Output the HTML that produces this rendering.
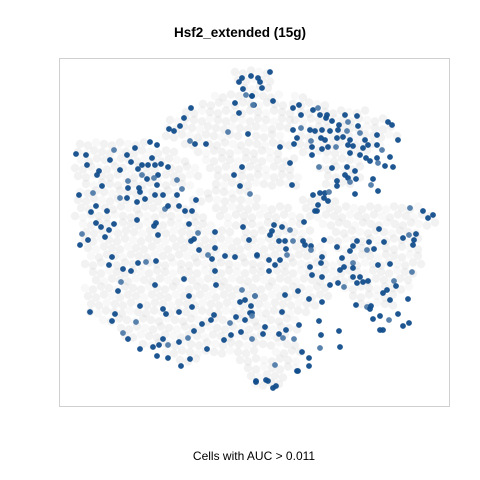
<!DOCTYPE html>
<html><head><meta charset="utf-8"><style>
body{margin:0;background:#fff;}
svg{display:block;font-family:"Liberation Sans",Arial,sans-serif;}
</style></head><body>
<svg id="chart" width="480" height="480">
<rect x="0" y="0" width="480" height="480" fill="#fff"/>
<text x="240" y="37" text-anchor="middle" font-size="13.5" font-weight="bold" fill="#000">Hsf2_extended (15g)</text>
<g id="gray"></g>
<g id="blue"></g>
<rect x="59.5" y="58.5" width="390" height="348" fill="none" stroke="#d0d0d0" stroke-width="1"/>
<text x="254" y="460" text-anchor="middle" font-size="12" fill="#000">Cells with AUC &gt; 0.011</text>
</svg>
<script>
// background cell density: per row, coordinate and x-span pairs
const grayRows = [72,80,88,96,104,112,120,128,136,144,152,160,168,176,184,192,200,208,216,224,232,240,248,256,264,272,280,288,296,304,312,320,328,336,344,352,360,368,376,384];
const graySpans = [
 [[235,270]],[[235,275]],[[238,275]],[[215,280],[295,310]],[[200,285],[290,330]],
 [[180,290],[295,370]],[[170,290],[295,390]],[[165,290],[300,395]],[[160,240],[250,285],[295,400]],
 [[80,150],[185,290],[300,380]],[[75,180],[195,285],[300,370]],[[75,190],[200,300],[320,360]],
 [[75,195],[210,290],[320,365]],[[75,200],[215,300],[325,360]],[[80,195],[210,300],[320,355]],
 [[80,180],[200,250]],[[75,175],[190,260],[300,340]],[[75,200],[210,290],[300,420]],
 [[75,210],[220,300],[310,430]],[[80,215],[225,305],[320,440]],[[80,230],[240,310],[330,420]],
 [[85,315],[330,420]],[[85,320],[335,420]],[[85,330],[340,425]],[[85,425]],[[90,420]],[[90,410]],
 [[85,330],[345,410]],[[85,330],[350,400]],[[85,320],[355,400]],[[90,310]],[[100,300]],
 [[115,300]],[[125,290]],[[140,295]],[[160,260],[270,300]],[[180,200],[240,300]],[[245,300]],[[245,290]],[[255,285]]
];
// cells above AUC threshold (tSNE coordinates)
const tsne1 = [76,86,87,114,110,99,97,102,79,93,96,91,107,101,96,82,80,88,105,109,114,120,120,127,131,135,138,128,127,128,137,139,142,142,147,148,152,155,158,154,157,150,157,161,168,177,177,163,155,145,140,165,168,179,185,192,196,182,137,156,154,158,189,198,194,191,199,215,215,208,212,225,235,249,243,257,112,109,123,131,138,146,156,184,215,216,155,121,118,90,112,115,140,136,163,166,179,192,189,123,128,140,153,159,163,168,179,157,168,181,190,188,194,202,207,211,214,230,236,231,224,241,245,242,245,240,251,252,255,252,256,242,239,251,252,246,243,235,239,254,248,228,191,184,180,174,169,190,195,206,242,234,240,250,
270,258,260,262,252,253,273,293,299,301,313,318,320,326,327,345,357,348,339,332,388,392,293,301,310,315,322,330,338,347,358,365,377,398,297,311,321,325,337,343,350,360,280,294,312,322,328,336,348,353,363,368,377,382,350,360,366,370,377,378,385,390,393,312,290,319,332,347,355,345,348,350,356,337,337,355,373,371,378,292,313,320,325,329,324,328,318,317,315,410,423,433,428,274,282,290,304,272,270,285,279,293,303,286,257,305,311,311,324,337,350,357,353,367,369,374,384,379,403,409,416,414,413,269,280,287,275,269,322,321,342,353,340,344,353,378,390,412,310,312,322,330,338,344,353,360,357,363,368,394,396,387,383,390,408,255,285,298,309,322,356,367,370,380,373,380,383,389,398,403,409,371,250,252,282,286,263,265,279,294,299,321,319,339,340,320,309,309,298,297,302,275,268,256,266,273,276,283,252];
const tsne2 = [154,155,165,150,160,171,175,186,195,193,206,212,211,227,223,234,245,240,237,230,224,198,170,155,162,148,169,181,198,188,202,188,165,175,179,165,158,165,175,178,185,142,145,164,167,180,195,195,195,199,192,209,206,206,211,211,200,189,220,223,226,235,224,233,239,241,250,248,232,255,259,256,257,240,227,256,257,265,269,271,263,262,261,279,271,285,285,282,291,312,321,314,306,322,309,314,312,307,296,333,339,349,347,345,339,345,342,356,358,366,359,338,331,324,349,320,315,323,317,335,340,332,320,290,300,302,306,313,296,339,381,78,82,76,96,95,89,103,113,105,134,132,108,118,126,131,129,141,144,144,167,175,186,194,
72,78,82,88,96,105,101,108,105,115,110,108,115,118,115,115,116,122,125,121,122,125,130,128,130,131,130,131,130,131,126,140,135,140,138,141,138,140,138,137,140,133,147,144,147,149,147,147,145,146,148,145,145,150,153,155,158,161,158,163,166,157,167,155,163,167,168,167,171,175,178,182,179,181,186,194,179,185,191,185,195,193,193,192,198,201,205,211,211,208,211,215,218,225,227,230,222,231,235,241,241,241,241,249,255,245,246,250,240,247,251,241,246,250,242,249,242,229,238,235,234,240,245,260,260,255,265,271,257,263,258,263,270,267,268,265,264,272,267,275,277,285,283,287,277,277,283,282,281,281,286,290,293,300,299,296,295,291,299,302,305,307,309,316,319,330,330,320,314,326,323,306,313,316,312,330,334,327,334,339,325,335,321,331,347,348,358,366,371,371,352,365,381,382,380,388,386,338];
const XDOM=[59,449], YDOM=[58,406];
const PX=[59,449], PY=[58,406];
function xs(v){return PX[0]+(v-XDOM[0])/(XDOM[1]-XDOM[0])*(PX[1]-PX[0]);}
function ys(v){return PY[0]+(v-YDOM[0])/(YDOM[1]-YDOM[0])*(PY[1]-PY[0]);}
const NS='http://www.w3.org/2000/svg';
const gG=document.getElementById('gray');
grayRows.forEach((row,i)=>{
  graySpans[i].forEach(span=>{
    const off=(i%3)*3;
    let k=0;
    for(let x=span[0]+off;x<=span[1];x+=8){
      k++;
      const c=document.createElementNS(NS,'circle');
      c.setAttribute('cx',xs(x));c.setAttribute('cy',ys(row+((k%3)-1)*1.5));c.setAttribute('r',4.2);
      c.setAttribute('fill','#d8d8d8');c.setAttribute('fill-opacity',(k+i)%4===0?'0.18':'0.32');
      
      
      gG.appendChild(c);
    }
  });
});
const bG=document.getElementById('blue');
const n=Math.min(tsne1.length,tsne2.length);
for(let i=0;i<n;i++){
  const c=document.createElementNS(NS,'circle');
  c.setAttribute('cx',xs(tsne1[i]));c.setAttribute('cy',ys(tsne2[i]));c.setAttribute('r',2.9);
  c.setAttribute('fill',i%6===3?'#4f7aa8':'#124d8c');c.setAttribute('fill-opacity','0.95');
  
  
  bG.appendChild(c);
}
</script>
</body></html>
